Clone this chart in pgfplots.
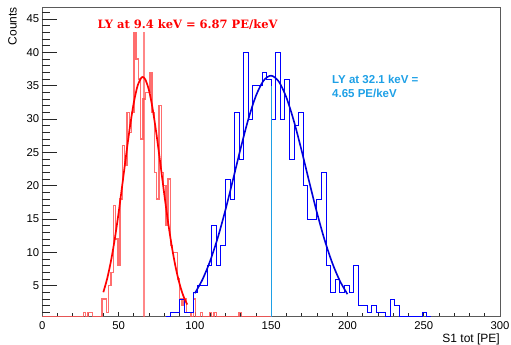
\documentclass[border=0pt]{standalone}
\usepackage{fontspec}
\setmainfont{Liberation Sans}
\newfontfamily\redfont{DejaVu Serif}
\usepackage{pgfplots}
\pgfplotsset{compat=1.18}
\usepackage{pgfplotstable}

\definecolor{ltblue}{RGB}{30,160,230}
\definecolor{histred}{RGB}{255,85,85}
\definecolor{framegray}{RGB}{90,90,90}

\pgfplotstableread{
x y
0 0
27 1
28.5 0
30 1
31.5 1
33 0
39 3
40.5 3
42 1
43.5 5
45 7
46.5 17
48 12
49.5 8
51 18
52.5 26
54 23
55.5 31
57 28
58.5 31
60 43
61.5 39
63 36
64.5 27
66 33
67.5 34
69 34
70.5 37
72 31
73.5 22
75 18
76.5 32
78 22
79.5 20
81 14
82.5 21
84 11
85.5 10
87 10
88.5 6
90 3
91.5 2
93 3
94.5 1
96 1
97.5 0
99 3
100.5 0
103.5 1
105 0
109.5 1
111 0
112.5 1
114 0
129 1
130.5 0
150 0
}\redhist

\pgfplotstableread{
x y
81 0
84 1
87 1
90 3
93 1
96 1
99 4
102 5
105 5
108 8
111 14
114 8
117 11
120 21
123 18
126 31
129 24
132 40
135 30
138 35
141 35
144 37
147 36
150 30
153 40
156 30
159 36
162 24
165 29
168 31
171 20
174 15
177 15
180 18
183 22
186 8
189 4
192 6
195 4
198 5
201 4
204 8
207 2
210 2
213 1
216 2
219 1
222 1
225 0
228 3
231 2
234 0
249 1
252 0
255 0
}\bluehist

\pgfplotsset{
  common/.style={
    scale only axis, width=457.7bp, height=308.7bp,
    at={(0,0)}, anchor=south west,
    xmin=0, xmax=300, ymin=0.35, ymax=46.65,
    tick align=inside,
    tick style={black!85, line width=0.7bp},
    /pgf/number format/assume math mode=true,
    ticklabel style={font=\fontsize{11.3bp}{13bp}\selectfont},
  }
}

\begin{document}
\begin{tikzpicture}
\useasboundingbox (-42.3bp,-28.3bp) rectangle (468.7bp,316.7bp);
\begin{axis}[common,
  axis line style={framegray, line width=1bp},
  xtick={0,50,...,300}, minor xtick={10,20,...,290},
  xtick pos=bottom,
  major tick length=5bp, minor tick length=3.3bp,
  xticklabel style={inner sep=0pt, anchor=north, yshift=-4.5bp},
  ytick=\empty,
]
\addplot[const plot mark left, histred, line width=1.4bp, opacity=0.85,
  y filter/.expression={max(y,0.35)}] table {\redhist};
\addplot[const plot mark left, blue, line width=0.9bp,
  y filter/.expression={max(y,0.35)}] table {\bluehist};
\addplot[histred, line width=1.6bp, opacity=0.7] coordinates {(66.8,0.35) (66.8,43)};
\addplot[ltblue, line width=0.8bp] coordinates {(150,0.35) (150,35)};
\addplot[red, line width=1.7bp, smooth] coordinates {
(40,4.02) (42.5,6.04) (45,8.69) (47.5,12.0) (50,15.91) (52.5,20.23) (55,24.69)
(57.5,28.91) (60,32.48) (62.5,35.02) (65,36.22) (65.8,36.3) (67.5,35.95) (70,34.25)
(72.5,31.29) (75,27.44) (77.5,23.09) (80,18.64) (82.5,14.44) (85,10.73) (87.5,7.66)
(90,5.24) (92.5,3.44) (95,2.17)};
\addplot[blue!85!black, line width=1.6bp, smooth] coordinates {
(100,3.87) (105,5.93) (110,8.70) (115,12.19) (120,16.33) (125,20.91) (130,25.59)
(135,29.93) (140,33.46) (145,35.75) (150,36.5) (155,35.62) (160,33.22) (165,29.61)
(170,25.23) (175,20.54) (180,15.98) (185,11.89) (190,8.45) (195,5.74) (200,3.73)};
\node[anchor=base, text=red, font=\redfont\bfseries\fontsize{11.5bp}{13bp}\selectfont]
  at (axis cs:95.2,43.6) {LY at 9.4 keV = 6.87 PE/keV};
\node[anchor=base west, inner sep=0pt, text=ltblue, font=\bfseries\fontsize{11.5bp}{13bp}\selectfont]
  at (axis cs:189.9,35.35) {LY at 32.1 keV =};
\node[anchor=base west, inner sep=0pt, text=ltblue, font=\bfseries\fontsize{11.5bp}{13bp}\selectfont]
  at (axis cs:189.9,33.25) {4.65 PE/keV};
\end{axis}
\begin{axis}[common,
  axis line style={draw=none},
  xtick=\empty,
  ytick={5,10,...,45}, minor ytick={1,...,46},
  ytick pos=left,
  major tick length=15bp, minor tick length=7.5bp,
  yticklabel style={inner sep=0pt, anchor=east, xshift=-3bp},
]
\end{axis}
\node[anchor=base east, inner sep=0pt, font=\fontsize{12bp}{14bp}\selectfont]
  at (457.7bp,-25.8bp) {S1 tot [PE]};
\node[anchor=base east, inner sep=0pt, rotate=90, font=\fontsize{12bp}{14bp}\selectfont]
  at (-25.8bp,309.7bp) {Counts};
\end{tikzpicture}
\end{document}
